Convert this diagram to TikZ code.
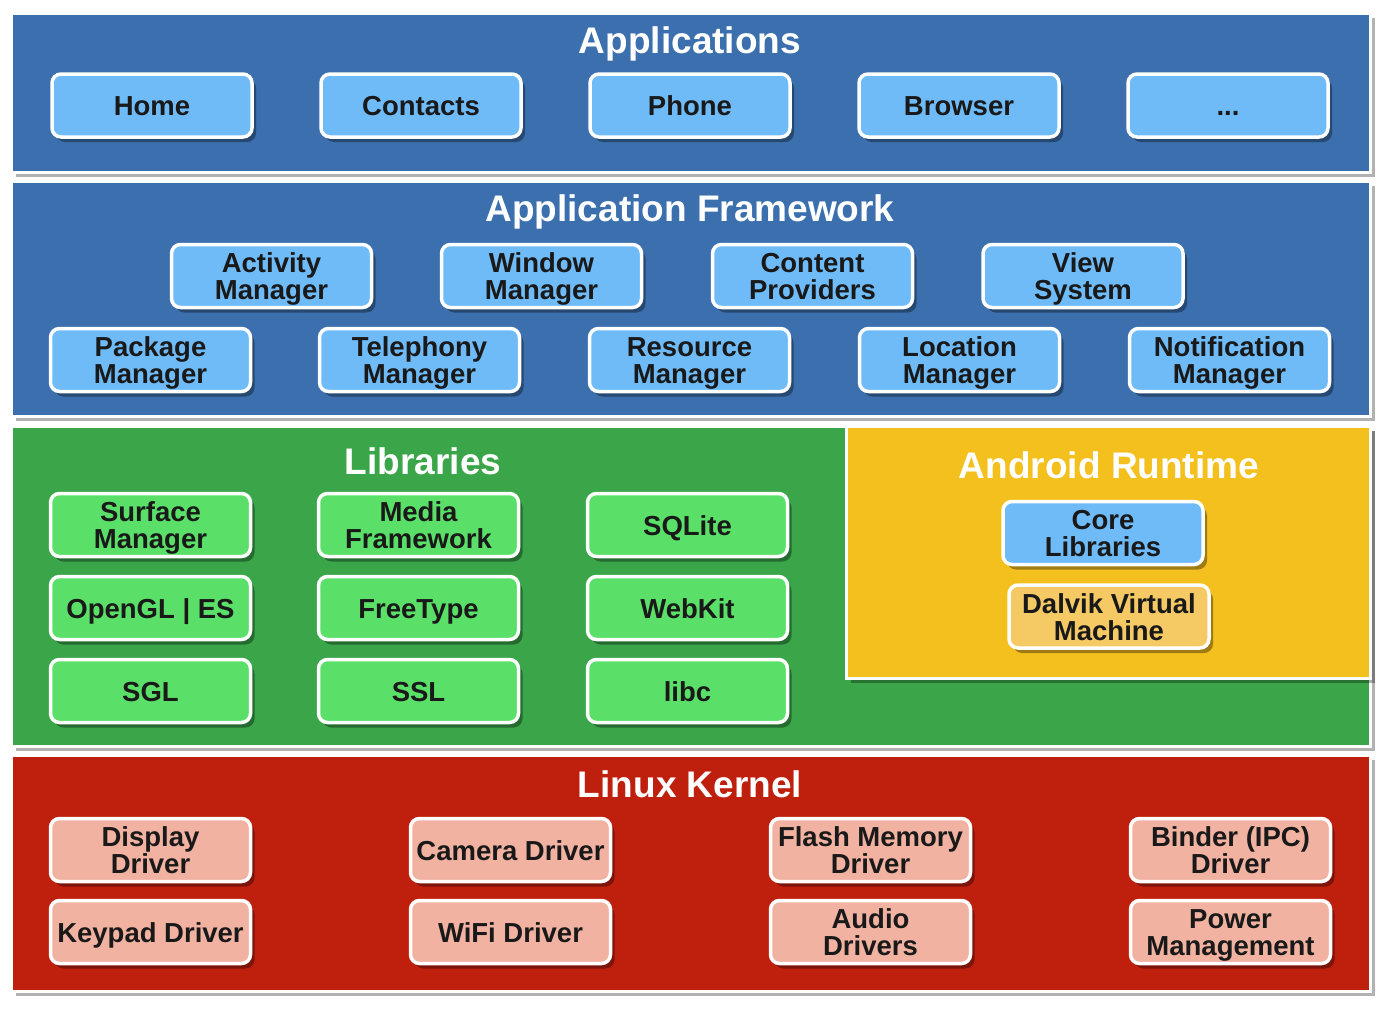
\documentclass[tikz,border=0pt]{standalone}
\usepackage{fontspec}
\setmainfont{Liberation Sans}
\usetikzlibrary{shadows}
\definecolor{appblue}{HTML}{3B6FAE}
\definecolor{boxblue}{HTML}{6EBBF8}
\definecolor{libgreen}{HTML}{3AA549}
\definecolor{boxgreen}{HTML}{5AE068}
\definecolor{rtyellow}{HTML}{F4C01E}
\definecolor{boxyellow}{HTML}{F5C964}
\definecolor{kred}{HTML}{BF200E}
\definecolor{boxpink}{HTML}{F2B2A2}
\tikzset{
  layer/.style={draw=white, line width=3pt, anchor=north west, inner sep=0pt,
    drop shadow={shadow xshift=4pt, shadow yshift=-4pt, fill=black, opacity=0.3}},
  ltitle/.style={text=white, font=\bfseries\fontsize{37}{40}\selectfont, inner sep=0pt,
    text height=27pt, text depth=0pt},
  box/.style={rounded corners=9pt, draw=white, line width=3.5pt, minimum width=200pt,
    minimum height=63pt, align=center, inner sep=2pt, text=black!90,
    font=\bfseries\fontsize{27.5}{27}\selectfont, text height=20pt, text depth=0pt,
    drop shadow={shadow xshift=4pt, shadow yshift=-5pt, fill=black, opacity=0.35}},
  two/.style={text height=47pt, text depth=0pt},
  bbox/.style={box, fill=boxblue},
  gbox/.style={box, fill=boxgreen},
  ybox/.style={box, fill=boxyellow},
  pbox/.style={box, fill=boxpink},
}
\begin{document}
\begin{tikzpicture}[x=1pt,y=-1pt]
\useasboundingbox[fill=white] (0,0) rectangle (1393,1013);
% layers
\node[layer, fill=appblue, minimum width=1359pt, minimum height=159pt] (applayer) at (10,12) {};
\node[layer, fill=appblue, minimum width=1359pt, minimum height=235pt] (fwlayer) at (10,180) {};
\node[layer, fill=libgreen, minimum width=1359pt, minimum height=320pt] (liblayer) at (10,425) {};
\node[layer, fill=rtyellow, minimum width=524pt, minimum height=252pt] (rtlayer) at (845,425) {};
\node[layer, fill=kred, minimum width=1359pt, minimum height=236pt] (klayer) at (10,754) {};
% titles
\node[ltitle] (tapp) at (690,40) {Applications};
\node[ltitle] (tfw) at (690,208) {Application Framework};
\node[ltitle] (tlib) at (423,461) {Libraries};
\node[ltitle] (trt) at (1109,465) {Android Runtime};
\node[ltitle] (tk) at (690,784) {Linux Kernel};
% applications
\node[bbox] (home) at (152,105.5) {Home};
\node[bbox] (contacts) at (421,105.5) {Contacts};
\node[bbox] (phone) at (690,105.5) {Phone};
\node[bbox] (browser) at (959,105.5) {Browser};
\node[bbox] (more) at (1228,105.5) {...};
% framework
\node[bbox, two] (activity) at (271.5,276) {Activity\\Manager};
\node[bbox, two] (window) at (541.5,276) {Window\\Manager};
\node[bbox, two] (content) at (812.5,276) {Content\\Providers};
\node[bbox, two] (view) at (1083,276) {View\\System};
\node[bbox, two] (package) at (150.5,360) {Package\\Manager};
\node[bbox, two] (telephony) at (419.5,360) {Telephony\\Manager};
\node[bbox, two] (resource) at (689.5,360) {Resource\\Manager};
\node[bbox, two] (location) at (959.5,360) {Location\\Manager};
\node[bbox, two] (notification) at (1229.5,360) {Notification\\Manager};
% libraries
\node[gbox, two] (surface) at (150.5,525) {Surface\\Manager};
\node[gbox, two] (media) at (418.5,525) {Media\\Framework};
\node[gbox] (sqlite) at (687.5,525) {SQLite};
\node[gbox] (opengl) at (150.5,608) {OpenGL | ES};
\node[gbox] (freetype) at (418.5,608) {FreeType};
\node[gbox] (webkit) at (687.5,608) {WebKit};
\node[gbox] (sgl) at (150.5,691) {SGL};
\node[gbox] (ssl) at (418.5,691) {SSL};
\node[gbox] (libc) at (687.5,691) {libc};
% runtime
\node[bbox, two] (core) at (1103,533) {Core\\Libraries};
\node[ybox, two] (dalvik) at (1109,616.5) {Dalvik Virtual\\Machine};
% kernel
\node[pbox, two] (display) at (150.5,850) {Display\\Driver};
\node[pbox] (camera) at (510.5,850) {Camera Driver};
\node[pbox, two] (flash) at (870.5,850) {Flash Memory\\Driver};
\node[pbox, two] (binder) at (1230.5,850) {Binder (IPC)\\Driver};
\node[pbox] (keypad) at (150.5,932) {Keypad Driver};
\node[pbox] (wifi) at (510.5,932) {WiFi Driver};
\node[pbox, two] (audio) at (870.5,932) {Audio\\Drivers};
\node[pbox, two] (power) at (1230.5,932) {Power\\Management};
\end{tikzpicture}
\end{document}
